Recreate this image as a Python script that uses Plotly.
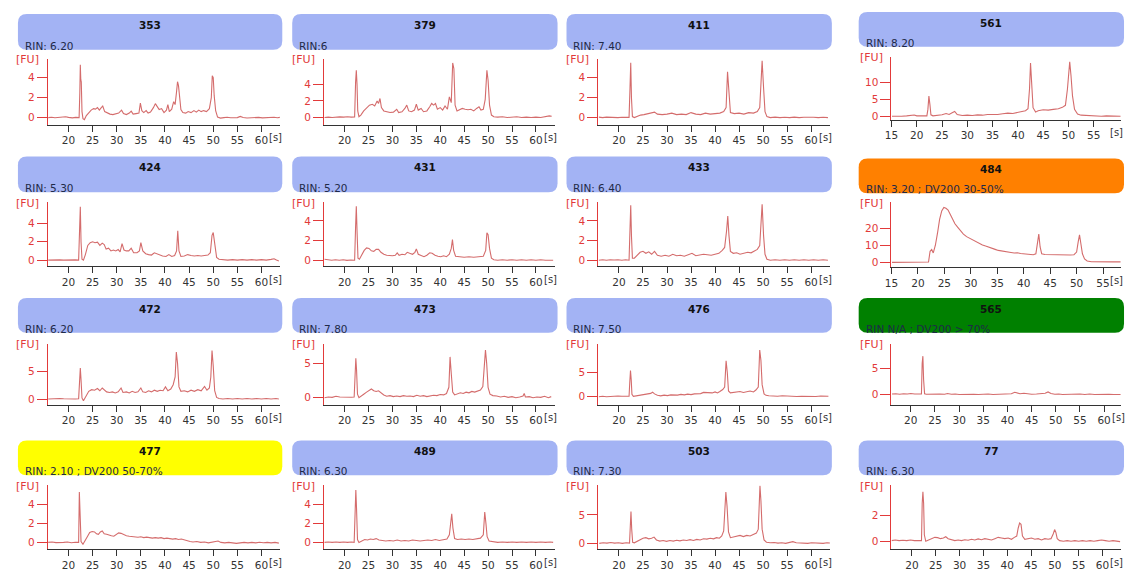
import plotly.graph_objects as go

# ---------------------------------------------------------------------------
# Sample annotations
# ---------------------------------------------------------------------------
samples = ["353", "379", "411", "561",
           "424", "431", "433", "484",
           "472", "473", "476", "565",
           "477", "489", "503", "77"]

rin_text = ["RIN: 6.20", "RIN:6", "RIN: 7.40", "RIN: 8.20",
            "RIN: 5.30", "RIN: 5.20", "RIN: 6.40", "RIN: 3.20 ; DV200 30-50%",
            "RIN: 6.20", "RIN: 7.80", "RIN: 7.50", "RIN N/A ; DV200 > 70%",
            "RIN: 2.10 ; DV200 50-70%", "RIN: 6.30", "RIN: 7.30", "RIN: 6.30"]

# quality flag per sample
quality = ["ok", "ok", "ok", "ok",
           "ok", "ok", "ok", "dv30",
           "ok", "ok", "ok", "dv70",
           "dv50", "ok", "ok", "ok"]

# fluorescence tick labels per panel
fu_ticks = [[0, 2, 4], [0, 2, 4], [0, 2, 4], [0, 5, 10],
            [0, 2, 4], [0, 2, 4], [0, 2, 4], [0, 10, 20],
            [0, 5], [0, 5], [0, 5], [0, 5],
            [0, 2, 4], [0, 2, 4], [0, 5], [0, 2]]

# migration-time tick labels
time_ticks_std = [20, 25, 30, 35, 40, 45, 50, 55, 60]
time_ticks_wide = [15, 20, 25, 30, 35, 40, 45, 50, 55]

# ---------------------------------------------------------------------------
# Electropherogram traces: (time [s], fluorescence [FU])
# ---------------------------------------------------------------------------
trace_353 = [
    (15.8, 0.0), (16.5, 0.03), (17.2, -0.02), (18.0, 0.02), (18.7, 0.0), (19.4, 0.08),
    (20.0, 0.02), (20.8, -0.03), (21.5, 0.02), (22.2, 0.0), (22.35, 2.5), (22.45, 5.3),
    (22.55, 3.8), (22.65, 3.6), (22.8, 0.6), (23.0, -0.1), (23.3, -0.2), (23.7, 0.2),
    (24.2, 0.5), (24.7, 0.75), (25.2, 0.9), (25.6, 0.85), (26.0, 1.0), (26.4, 0.75),
    (26.8, 1.0), (27.1, 1.15), (27.5, 0.6), (28.0, 0.45), (28.6, 0.35), (29.2, 0.3),
    (29.8, 0.4), (30.4, 0.45), (31.0, 0.75), (31.4, 0.4), (32.0, 0.3), (32.6, 0.45),
    (33.0, 0.65), (33.4, 0.35), (34.0, 0.4), (34.6, 0.45), (34.9, 1.45), (35.2, 0.7),
    (35.6, 0.5), (36.1, 0.7), (36.5, 0.45), (37.0, 0.55), (37.6, 1.0), (38.0, 1.4),
    (38.4, 1.1), (38.8, 0.8), (39.3, 0.9), (39.8, 0.5), (40.3, 0.75), (40.6, 1.3),
    (40.9, 0.6), (41.4, 0.85), (41.8, 1.6), (42.1, 1.3), (42.4, 2.6), (42.6, 3.6),
    (42.8, 3.2), (43.0, 2.0), (43.3, 0.8), (43.7, 0.5), (44.3, 0.45), (44.8, 0.6),
    (45.4, 0.5), (46.0, 0.7), (46.5, 0.55), (47.0, 0.75), (47.5, 0.6), (48.0, 0.7),
    (48.6, 0.6), (49.2, 0.9), (49.6, 2.0), (49.8, 4.2), (50.0, 4.0), (50.2, 2.2),
    (50.5, 0.7), (50.9, 0.05), (51.5, -0.05), (52.2, 0.0), (52.9, 0.03), (53.6, -0.02),
    (54.3, 0.02), (55.0, 0.0), (55.6, 0.12), (56.2, 0.0), (57.0, -0.04), (57.8, 0.0),
    (58.6, -0.03), (59.4, 0.02), (60.2, -0.03), (61.0, 0.0), (61.8, -0.04), (62.6, 0.03),
    (63.3, -0.02), (63.8, 0.02),
]

trace_379 = [
    (15.8, 0.0), (16.6, 0.05), (17.4, 0.0), (18.2, 0.05), (19.0, 0.08), (19.8, 0.05),
    (20.6, 0.1), (21.4, 0.05), (22.1, 0.08), (22.3, 4.3), (22.45, 5.7), (22.6, 4.0),
    (22.75, 0.8), (23.0, 0.1), (23.4, 0.3), (24.0, 0.8), (24.6, 1.2), (25.2, 1.5),
    (25.8, 1.6), (26.3, 1.4), (26.8, 2.0), (27.1, 1.7), (27.4, 2.3), (27.7, 1.2),
    (28.2, 0.8), (28.8, 0.7), (29.5, 0.6), (30.2, 0.65), (30.9, 1.0), (31.3, 0.6),
    (32.0, 0.7), (32.6, 1.1), (33.0, 1.5), (33.4, 0.8), (34.0, 0.7), (34.6, 0.9),
    (35.0, 1.6), (35.4, 0.9), (36.0, 1.1), (36.5, 0.7), (37.2, 0.8), (37.8, 1.3),
    (38.2, 1.7), (38.6, 1.5), (39.0, 1.7), (39.4, 1.0), (40.0, 1.2), (40.5, 0.9),
    (41.0, 1.4), (41.5, 1.0), (41.9, 2.5), (42.3, 1.8), (42.6, 6.6), (42.85, 5.9),
    (43.1, 1.5), (43.5, 0.8), (44.0, 0.9), (44.6, 1.1), (45.2, 1.0), (45.8, 0.95),
    (46.4, 1.0), (47.0, 0.8), (47.6, 1.1), (48.1, 1.3), (48.5, 0.9), (49.0, 1.0),
    (49.4, 2.2), (49.75, 5.7), (50.0, 4.5), (50.3, 1.5), (50.7, 0.3), (51.2, 0.1),
    (52.0, 0.05), (53.0, 0.1), (54.0, 0.0), (55.0, 0.05), (56.0, 0.1), (57.0, 0.0),
    (58.0, 0.05), (59.0, 0.0), (60.0, 0.05), (61.0, 0.0), (62.0, 0.1), (62.8, 0.2),
    (63.3, 0.15),
]

trace_411 = [
    (15.8, 0.05), (16.6, 0.0), (17.4, 0.05), (18.2, 0.02), (19.0, 0.06), (19.8, 0.0),
    (20.6, 0.04), (21.4, 0.0), (22.1, 0.02), (22.3, 3.0), (22.45, 5.5), (22.6, 2.0),
    (22.8, 0.1), (23.2, 0.0), (23.8, 0.15), (24.5, 0.25), (25.2, 0.3), (26.0, 0.4),
    (26.8, 0.5), (27.4, 0.55), (28.0, 0.35), (29.0, 0.3), (30.0, 0.35), (31.0, 0.45),
    (32.0, 0.3), (33.0, 0.35), (34.0, 0.3), (35.0, 0.5), (36.0, 0.35), (37.0, 0.3),
    (38.0, 0.45), (39.0, 0.35), (40.0, 0.4), (41.0, 0.45), (41.8, 0.6), (42.3, 1.0),
    (42.6, 4.6), (42.9, 2.0), (43.2, 0.5), (44.0, 0.4), (45.0, 0.45), (46.0, 0.35),
    (47.0, 0.5), (48.0, 0.45), (48.8, 0.6), (49.3, 1.0), (49.6, 4.0), (49.8, 5.7),
    (50.1, 3.0), (50.4, 0.6), (50.8, 0.1), (51.5, 0.0), (52.5, 0.05), (53.5, 0.0),
    (54.5, 0.04), (55.5, 0.0), (56.5, 0.05), (57.5, 0.0), (58.5, 0.04), (59.5, 0.0),
    (60.5, 0.03), (61.5, 0.0), (62.5, 0.04), (63.5, 0.0),
]

trace_561 = [
    (15.1, 0.0), (16.0, 0.1), (17.0, 0.0), (18.0, 0.1), (19.0, 0.15), (19.5, 0.35),
    (20.0, 0.1), (21.0, 0.0), (22.0, 0.1), (22.2, 2.0), (22.4, 5.9), (22.6, 3.5),
    (22.8, 0.4), (23.2, 0.1), (24.0, 0.2), (25.0, 0.4), (25.8, 0.8), (26.4, 0.5),
    (27.0, 1.0), (27.5, 1.4), (28.0, 0.5), (29.0, 0.2), (30.0, 0.3), (31.0, 0.2),
    (32.0, 0.4), (33.0, 0.3), (34.0, 0.5), (35.0, 0.4), (36.0, 0.5), (37.0, 0.7),
    (38.0, 0.9), (39.0, 0.8), (40.0, 1.1), (40.8, 1.3), (41.5, 1.6), (42.0, 2.2),
    (42.3, 8.0), (42.5, 15.7), (42.75, 9.0), (43.0, 2.5), (43.5, 1.2), (44.0, 1.6),
    (45.0, 1.9), (46.0, 1.8), (47.0, 2.0), (48.0, 2.2), (48.8, 2.6), (49.4, 3.2),
    (49.8, 8.0), (50.0, 13.0), (50.25, 16.0), (50.5, 12.0), (50.8, 6.0), (51.2, 2.0),
    (51.8, 0.6), (52.5, 0.3), (53.5, 0.2), (54.5, 0.1), (55.5, 0.2), (56.5, 0.0),
    (57.5, 0.1), (58.5, 0.0), (59.5, 0.1), (60.3, 0.0),
]

trace_424 = [
    (15.8, 0.0), (16.6, 0.03), (17.4, -0.02), (18.2, 0.02), (19.0, 0.0), (19.8, 0.03),
    (20.6, -0.02), (21.4, 0.02), (22.1, 0.0), (22.3, 3.8), (22.45, 5.8), (22.6, 2.0),
    (22.8, 0.1), (23.1, 0.0), (23.5, 0.6), (24.0, 1.6), (24.5, 1.9), (25.0, 2.0),
    (25.5, 1.9), (26.0, 1.95), (26.5, 1.6), (27.0, 1.85), (27.4, 1.7), (27.8, 1.2),
    (28.3, 1.3), (28.8, 1.0), (29.3, 1.1), (29.8, 1.0), (30.3, 1.15), (30.7, 0.9),
    (31.1, 1.8), (31.5, 1.1), (32.0, 1.0), (32.5, 1.0), (33.0, 1.3), (33.5, 0.8),
    (34.2, 0.8), (34.7, 1.0), (35.0, 1.9), (35.4, 1.0), (36.0, 0.7), (36.6, 0.6),
    (37.2, 0.55), (37.8, 0.8), (38.3, 0.7), (38.9, 0.5), (39.5, 0.45), (40.2, 0.4),
    (40.8, 0.6), (41.4, 0.4), (42.0, 0.5), (42.4, 1.0), (42.65, 3.2), (42.9, 1.0),
    (43.3, 0.4), (44.0, 0.45), (44.7, 0.6), (45.4, 0.5), (46.1, 0.45), (46.8, 0.5),
    (47.5, 0.45), (48.2, 0.5), (48.9, 0.55), (49.4, 0.8), (49.75, 2.7), (50.0, 3.0),
    (50.3, 1.6), (50.7, 0.3), (51.2, 0.1), (52.0, 0.05), (53.0, 0.0), (54.0, 0.05),
    (55.0, 0.0), (56.0, 0.05), (57.0, 0.0), (58.0, 0.05), (59.0, 0.0), (60.0, 0.05),
    (61.0, 0.0), (62.0, 0.08), (62.6, 0.15), (63.1, 0.0), (63.6, -0.1),
]

trace_431 = [
    (15.8, 0.1), (16.5, 0.05), (17.3, 0.0), (18.1, 0.05), (18.9, 0.0), (19.7, 0.05),
    (20.5, -0.02), (21.3, 0.02), (22.1, 0.0), (22.3, 3.4), (22.45, 5.5), (22.6, 3.0),
    (22.8, 0.2), (23.1, 0.1), (23.6, 0.5), (24.1, 1.0), (24.6, 1.25), (25.1, 1.2),
    (25.6, 0.95), (26.1, 0.9), (26.6, 1.1), (27.1, 1.1), (27.6, 0.8), (28.2, 0.6),
    (28.8, 0.5), (29.4, 0.45), (30.0, 0.45), (30.6, 0.5), (31.0, 0.75), (31.4, 0.5),
    (32.0, 0.6), (32.6, 0.55), (33.1, 0.8), (33.6, 0.7), (34.2, 0.6), (34.7, 0.8),
    (35.0, 1.15), (35.4, 0.6), (36.0, 0.45), (36.6, 0.35), (37.2, 0.5), (37.8, 0.75),
    (38.3, 0.7), (38.9, 0.5), (39.5, 0.4), (40.1, 0.35), (40.7, 0.45), (41.3, 0.35),
    (41.9, 0.6), (42.3, 1.2), (42.55, 2.1), (42.8, 1.0), (43.2, 0.4), (44.0, 0.35),
    (45.0, 0.3), (46.0, 0.35), (47.0, 0.3), (48.0, 0.35), (49.0, 0.4), (49.5, 1.0),
    (49.75, 2.8), (50.0, 2.6), (50.3, 1.2), (50.7, 0.2), (51.2, 0.05), (52.0, 0.0),
    (53.0, 0.05), (54.0, 0.0), (55.0, 0.05), (56.0, 0.0), (57.0, 0.05), (58.0, 0.0),
    (59.0, 0.04), (60.0, 0.0), (61.0, 0.05), (62.0, 0.0), (63.0, 0.04), (63.6, 0.0),
]

trace_433 = [
    (15.8, 0.0), (16.6, 0.05), (17.4, 0.0), (18.2, 0.05), (19.0, 0.02), (19.8, 0.05),
    (20.6, 0.0), (21.4, 0.05), (22.1, 0.0), (22.3, 3.5), (22.45, 5.6), (22.6, 2.5),
    (22.8, 0.2), (23.2, 0.2), (23.8, 0.5), (24.4, 0.8), (25.0, 0.9), (25.6, 0.7),
    (26.2, 0.85), (26.8, 0.6), (27.4, 0.9), (28.0, 0.5), (28.8, 0.4), (29.6, 0.5),
    (30.4, 0.4), (31.2, 0.6), (32.0, 0.45), (32.8, 0.5), (33.6, 0.4), (34.4, 0.55),
    (35.2, 0.7), (36.0, 0.45), (36.8, 0.5), (37.6, 0.6), (38.4, 0.55), (39.2, 0.5),
    (40.0, 0.6), (40.8, 0.7), (41.5, 1.0), (42.0, 1.3), (42.4, 3.0), (42.65, 4.5),
    (42.9, 2.5), (43.2, 0.9), (43.8, 0.7), (44.5, 0.75), (45.2, 0.6), (46.0, 0.7),
    (46.8, 0.8), (47.5, 0.75), (48.2, 0.9), (48.8, 1.1), (49.3, 1.5), (49.6, 4.0),
    (49.8, 5.7), (50.1, 2.5), (50.4, 0.6), (50.8, 0.1), (51.5, 0.0), (52.5, 0.05),
    (53.5, 0.0), (54.5, 0.05), (55.5, 0.0), (56.5, 0.05), (57.5, 0.0), (58.5, 0.05),
    (59.5, 0.0), (60.5, 0.05), (61.5, 0.0), (62.5, 0.05), (63.5, 0.0),
]

trace_484 = [
    (15.1, 0.0), (16.5, 0.0), (18.0, 0.0), (19.5, 0.0), (21.0, 0.0), (22.0, 0.2),
    (22.3, 6.5), (22.6, 7.5), (22.9, 5.5), (23.3, 10.0), (23.7, 17.0), (24.1, 25.0),
    (24.5, 30.0), (24.9, 32.0), (25.3, 31.5), (25.7, 30.5), (26.1, 28.0), (26.5, 25.5),
    (27.0, 22.5), (27.5, 20.5), (28.0, 18.5), (28.6, 16.5), (29.2, 15.0), (29.8, 14.0),
    (30.4, 13.0), (31.0, 12.0), (31.6, 11.0), (32.2, 10.2), (32.8, 9.5), (33.4, 9.0),
    (34.0, 8.2), (34.6, 7.6), (35.2, 7.0), (35.8, 6.8), (36.4, 6.5), (37.0, 6.0),
    (37.6, 5.8), (38.2, 5.5), (38.8, 5.6), (39.4, 5.2), (40.0, 5.0), (40.6, 4.8),
    (41.2, 4.6), (41.8, 4.5), (42.3, 5.0), (42.6, 10.0), (42.85, 16.5), (43.1, 9.0),
    (43.4, 5.0), (44.0, 4.6), (44.8, 4.5), (45.6, 4.6), (46.4, 4.5), (47.2, 4.4),
    (48.0, 4.5), (48.8, 4.3), (49.5, 4.5), (50.0, 6.0), (50.3, 12.0), (50.55, 16.0),
    (50.8, 11.0), (51.1, 5.0), (51.5, 2.0), (52.0, 0.8), (52.8, 0.4), (53.6, 0.3),
    (54.4, 0.3), (55.2, 0.3), (56.0, 0.3), (56.8, 0.3), (57.6, 0.3), (58.3, 0.3),
]

trace_472 = [
    (15.8, 0.0), (16.6, 0.05), (17.4, 0.0), (18.2, 0.1), (19.0, 0.05), (19.8, 0.0),
    (20.6, 0.05), (21.4, 0.0), (22.1, 0.05), (22.3, 3.0), (22.45, 5.6), (22.6, 3.5),
    (22.8, 0.2), (23.1, -0.3), (23.6, 0.6), (24.2, 1.4), (24.8, 1.7), (25.4, 1.6),
    (26.0, 1.9), (26.5, 1.5), (27.0, 2.0), (27.4, 1.6), (27.9, 1.3), (28.5, 1.2),
    (29.1, 1.3), (29.7, 1.1), (30.3, 1.3), (30.9, 2.0), (31.3, 1.2), (32.0, 1.3),
    (32.6, 1.1), (33.2, 1.4), (33.8, 1.2), (34.4, 1.3), (35.0, 2.0), (35.4, 1.3),
    (36.0, 1.2), (36.6, 1.5), (37.2, 1.3), (37.8, 1.6), (38.4, 1.4), (39.0, 1.6),
    (39.6, 1.5), (40.1, 2.2), (40.6, 1.5), (41.2, 1.8), (41.7, 2.6), (42.1, 4.0),
    (42.35, 8.5), (42.6, 6.5), (42.9, 2.2), (43.3, 1.4), (44.0, 1.5), (44.7, 1.3),
    (45.4, 1.6), (46.1, 1.4), (46.8, 1.7), (47.5, 1.5), (48.2, 2.3), (48.7, 1.6),
    (49.2, 2.0), (49.5, 4.0), (49.75, 8.8), (50.0, 6.0), (50.3, 1.5), (50.7, 0.3),
    (51.2, 0.1), (52.0, 0.0), (53.0, 0.1), (54.0, 0.0), (55.0, 0.1), (56.0, 0.0),
    (57.0, 0.1), (58.0, 0.0), (59.0, 0.1), (60.0, 0.0), (61.0, 0.1), (62.0, 0.0),
    (63.0, 0.1), (63.6, 0.0),
]

trace_473 = [
    (15.8, 0.0), (16.6, 0.1), (17.4, 0.05), (18.2, 0.2), (19.0, 0.1), (19.8, 0.05),
    (20.6, 0.1), (21.4, 0.05), (22.0, 0.1), (22.2, 3.0), (22.35, 5.7), (22.5, 4.0),
    (22.7, 0.5), (23.0, 0.0), (23.5, 0.3), (24.0, 0.5), (24.6, 0.8), (25.2, 1.0),
    (25.6, 1.25), (26.1, 1.0), (26.6, 0.9), (27.1, 1.0), (27.6, 0.7), (28.2, 0.4),
    (28.8, 0.2), (29.5, 0.3), (30.2, 0.15), (30.9, 0.25), (31.6, 0.15), (32.3, 0.3),
    (33.0, 0.2), (33.7, 0.25), (34.4, 0.15), (35.1, 0.35), (35.8, 0.2), (36.5, 0.3),
    (37.2, 0.15), (37.9, 0.3), (38.6, 0.35), (39.3, 0.3), (40.0, 0.45), (40.7, 0.4),
    (41.3, 0.6), (41.8, 1.5), (42.05, 5.9), (42.3, 3.5), (42.6, 0.8), (43.0, 0.4),
    (43.6, 0.5), (44.2, 0.7), (44.8, 0.6), (45.4, 0.8), (46.0, 0.7), (46.6, 0.9),
    (47.2, 0.8), (47.8, 0.9), (48.4, 1.1), (48.9, 1.6), (49.2, 4.5), (49.45, 6.9),
    (49.7, 5.0), (50.0, 1.5), (50.4, 0.5), (51.0, 0.3), (51.8, 0.25), (52.6, 0.1),
    (53.4, 0.2), (54.2, 0.05), (55.0, 0.15), (55.8, 0.0), (56.6, 0.1), (57.3, 0.25),
    (57.55, 0.6), (57.8, 0.1), (58.6, 0.15), (59.4, 0.0), (60.2, 0.1), (61.0, 0.05),
    (61.8, 0.2), (62.6, 0.0), (63.2, 0.15),
]

trace_476 = [
    (15.8, 0.0), (16.6, 0.1), (17.4, 0.0), (18.2, 0.1), (19.0, 0.05), (19.8, 0.15),
    (20.6, 0.1), (21.4, 0.05), (22.1, 0.1), (22.25, 3.0), (22.4, 5.4), (22.55, 3.5),
    (22.7, 0.5), (23.0, 0.1), (23.6, 0.2), (24.2, 0.4), (24.8, 0.5), (25.4, 0.45),
    (26.0, 0.6), (26.6, 0.7), (27.0, 0.95), (27.4, 0.6), (28.0, 0.3), (28.7, 0.2),
    (29.4, 0.35), (30.1, 0.25), (30.8, 0.4), (31.5, 0.3), (32.2, 0.35), (32.9, 0.5),
    (33.6, 0.4), (34.3, 0.55), (35.0, 0.45), (35.7, 0.6), (36.4, 0.7), (37.0, 0.65),
    (37.6, 0.9), (38.2, 0.85), (38.8, 0.7), (39.4, 0.8), (40.0, 1.0), (40.5, 0.8),
    (41.0, 1.1), (41.6, 1.5), (42.0, 2.0), (42.3, 7.4), (42.55, 5.0), (42.8, 1.2),
    (43.2, 0.8), (43.8, 0.9), (44.5, 1.0), (45.2, 1.1), (45.9, 0.9), (46.6, 1.1),
    (47.3, 1.2), (48.0, 1.0), (48.5, 1.4), (49.0, 2.0), (49.3, 9.6), (49.55, 7.5),
    (49.8, 2.5), (50.2, 0.6), (50.6, 0.3), (51.2, 0.2), (52.0, 0.15), (53.0, 0.1),
    (54.0, 0.2), (55.0, 0.1), (56.0, 0.15), (57.0, 0.05), (58.0, 0.1), (59.0, 0.05),
    (60.0, 0.1), (61.0, 0.05), (62.0, 0.15), (63.0, 0.05), (63.6, 0.1),
]

trace_565 = [
    (16.1, 0.05), (16.9, 0.1), (17.7, 0.0), (18.5, 0.1), (19.3, 0.05), (20.0, 0.15),
    (20.8, 0.05), (21.6, 0.1), (22.2, 0.05), (22.35, 6.0), (22.5, 7.4), (22.65, 2.8),
    (22.85, 0.1), (23.2, 0.0), (24.0, 0.05), (25.0, 0.0), (26.0, 0.05), (27.0, 0.0),
    (27.6, 0.15), (28.4, 0.0), (29.2, 0.05), (30.0, -0.05), (31.0, 0.0), (32.0, -0.05),
    (33.0, 0.0), (34.0, -0.05), (35.0, 0.0), (36.0, 0.05), (37.0, -0.05), (38.0, 0.0),
    (39.0, -0.05), (40.0, 0.05), (40.8, 0.1), (41.5, 0.4), (42.0, 0.2), (42.6, 0.1),
    (43.4, 0.2), (44.2, 0.05), (45.0, 0.0), (46.0, 0.05), (47.0, 0.1), (47.8, 0.2),
    (48.4, 0.45), (49.0, 0.15), (49.8, 0.0), (50.6, 0.05), (51.4, -0.05), (52.2, 0.0),
    (53.0, -0.05), (54.0, 0.0), (55.0, 0.05), (56.0, -0.05), (57.0, 0.05), (58.0, -0.05),
    (59.0, 0.0), (60.0, -0.05), (61.0, 0.0), (62.0, -0.05), (63.0, 0.0), (63.4, -0.03),
]

trace_477 = [
    (15.8, 0.0), (16.6, 0.05), (17.4, -0.02), (18.2, 0.03), (19.0, 0.0), (19.8, 0.04),
    (20.6, -0.03), (21.4, 0.02), (22.1, 0.0), (22.25, 5.3), (22.4, 2.5), (22.6, 0.1),
    (23.0, -0.2), (23.4, 0.1), (23.9, 0.6), (24.4, 1.05), (24.9, 1.15), (25.4, 1.1),
    (25.8, 0.9), (26.2, 0.85), (26.6, 1.1), (27.0, 1.2), (27.4, 0.9), (27.9, 0.85),
    (28.4, 0.75), (28.9, 0.7), (29.4, 0.65), (29.9, 0.8), (30.4, 1.0), (30.9, 0.95),
    (31.4, 0.8), (32.0, 0.7), (32.6, 0.65), (33.2, 0.6), (33.8, 0.6), (34.4, 0.55),
    (35.0, 0.6), (35.6, 0.5), (36.2, 0.55), (36.8, 0.5), (37.4, 0.45), (38.0, 0.5),
    (38.6, 0.45), (39.2, 0.5), (39.8, 0.4), (40.4, 0.45), (41.0, 0.4), (41.6, 0.35),
    (42.2, 0.4), (42.8, 0.3), (43.4, 0.35), (44.0, 0.25), (44.6, 0.15), (45.2, 0.1),
    (45.8, 0.05), (46.6, 0.1), (47.4, 0.0), (48.2, 0.05), (49.0, -0.05), (49.8, 0.0),
    (50.5, 0.12), (51.0, 0.15), (51.6, 0.0), (52.4, -0.05), (53.2, 0.0), (54.0, -0.05),
    (54.8, -0.1), (55.6, -0.05), (56.4, 0.0), (57.2, -0.05), (58.0, 0.0), (58.8, -0.05),
    (59.6, 0.02), (60.4, -0.04), (61.2, 0.0), (62.0, -0.05), (62.8, 0.0), (63.6, -0.08),
]

trace_489 = [
    (15.8, 0.0), (16.6, 0.05), (17.4, 0.0), (18.2, 0.05), (19.0, 0.0), (19.8, 0.05),
    (20.6, 0.0), (21.4, 0.05), (22.0, 0.0), (22.2, 2.5), (22.35, 5.5), (22.5, 3.5),
    (22.7, 0.3), (23.0, 0.0), (23.6, 0.15), (24.2, 0.3), (24.8, 0.25), (25.4, 0.35),
    (26.0, 0.3), (26.6, 0.4), (27.2, 0.25), (27.8, 0.2), (28.6, 0.15), (29.4, 0.2),
    (30.2, 0.15), (31.0, 0.25), (31.8, 0.15), (32.6, 0.2), (33.4, 0.15), (34.2, 0.25),
    (35.0, 0.2), (35.8, 0.15), (36.6, 0.2), (37.4, 0.25), (38.2, 0.2), (39.0, 0.3),
    (39.8, 0.2), (40.6, 0.25), (41.4, 0.35), (41.9, 0.8), (42.2, 2.5), (42.4, 3.0),
    (42.65, 1.5), (43.0, 0.4), (43.6, 0.3), (44.4, 0.35), (45.2, 0.3), (46.0, 0.35),
    (46.8, 0.3), (47.6, 0.4), (48.4, 0.45), (49.0, 0.8), (49.3, 3.2), (49.55, 2.0),
    (49.8, 0.6), (50.2, 0.15), (51.0, 0.05), (52.0, 0.0), (53.0, 0.05), (54.0, 0.0),
    (55.0, 0.05), (56.0, 0.0), (57.0, 0.05), (58.0, 0.0), (59.0, 0.05), (60.0, 0.0),
    (61.0, 0.05), (62.0, 0.0), (63.0, 0.05), (63.6, 0.0),
]

trace_503 = [
    (15.9, 0.0), (16.7, 0.1), (17.5, 0.05), (18.3, 0.15), (19.1, 0.05), (19.9, 0.1),
    (20.7, 0.0), (21.5, 0.1), (22.2, 0.05), (22.35, 3.3), (22.5, 5.6), (22.65, 2.5),
    (22.85, 0.2), (23.2, 0.1), (23.8, 0.4), (24.4, 0.7), (25.0, 0.9), (25.6, 1.0),
    (26.2, 0.8), (26.8, 0.9), (27.3, 1.1), (27.8, 0.6), (28.5, 0.4), (29.2, 0.5),
    (29.9, 0.35), (30.6, 0.5), (31.3, 0.4), (32.0, 0.55), (32.7, 0.45), (33.4, 0.6),
    (34.1, 0.5), (34.8, 0.65), (35.5, 0.5), (36.2, 0.7), (36.9, 0.6), (37.6, 0.8),
    (38.3, 0.75), (39.0, 0.9), (39.7, 0.8), (40.3, 1.0), (40.9, 0.9), (41.4, 1.3),
    (41.8, 2.2), (42.05, 6.0), (42.25, 9.0), (42.5, 6.5), (42.8, 2.0), (43.2, 1.0),
    (43.8, 1.1), (44.5, 1.3), (45.2, 1.4), (45.9, 1.2), (46.6, 1.4), (47.3, 1.3),
    (48.0, 1.5), (48.6, 1.8), (49.0, 2.5), (49.2, 6.0), (49.35, 10.1), (49.55, 7.5),
    (49.8, 2.5), (50.2, 0.6), (50.7, 0.2), (51.5, 0.1), (52.3, 0.15), (53.1, 0.05),
    (53.9, 0.1), (54.7, 0.0), (55.5, 0.1), (56.2, 0.3), (56.9, 0.1), (57.7, 0.05),
    (58.5, 0.1), (59.3, 0.0), (60.1, 0.1), (60.9, 0.05), (61.7, 0.1), (62.5, 0.0),
    (63.3, 0.1), (64.0, 0.05),
]

trace_77 = [
    (15.7, 0.05), (16.5, 0.1), (17.3, 0.05), (18.1, 0.08), (18.9, 0.05), (19.7, 0.1),
    (20.5, 0.05), (21.3, 0.08), (22.0, 0.05), (22.15, 2.9), (22.3, 3.8), (22.45, 2.9),
    (22.6, 0.5), (22.9, 0.0), (23.5, 0.1), (24.2, 0.25), (24.8, 0.3), (25.4, 0.28),
    (26.0, 0.2), (26.6, 0.25), (27.1, 0.35), (27.6, 0.2), (28.3, 0.1), (29.0, 0.05),
    (29.7, 0.1), (30.4, 0.05), (31.1, 0.12), (31.8, 0.08), (32.5, 0.15), (33.2, 0.1),
    (33.9, 0.18), (34.6, 0.12), (35.3, 0.2), (36.0, 0.15), (36.7, 0.1), (37.4, 0.2),
    (38.1, 0.3), (38.8, 0.25), (39.5, 0.2), (40.2, 0.25), (40.9, 0.15), (41.5, 0.3),
    (42.0, 0.4), (42.3, 1.0), (42.6, 1.4), (42.9, 1.3), (43.2, 0.4), (43.7, 0.15),
    (44.4, 0.2), (45.1, 0.25), (45.8, 0.15), (46.5, 0.2), (47.2, 0.1), (47.9, 0.2),
    (48.6, 0.15), (49.2, 0.2), (49.7, 0.6), (49.95, 0.9), (50.2, 0.7), (50.5, 0.2),
    (51.0, 0.05), (51.8, 0.0), (52.6, 0.05), (53.4, 0.0), (54.2, 0.05), (55.0, 0.0),
    (55.8, 0.05), (56.6, 0.0), (57.4, 0.05), (58.2, 0.0), (59.0, 0.05), (59.8, 0.1),
    (60.6, 0.05), (61.4, 0.0), (62.2, 0.05), (63.0, 0.0), (63.7, -0.03),
]

profiles = {
    "353": trace_353, "379": trace_379, "411": trace_411, "561": trace_561,
    "424": trace_424, "431": trace_431, "433": trace_433, "484": trace_484,
    "472": trace_472, "473": trace_473, "476": trace_476, "565": trace_565,
    "477": trace_477, "489": trace_489, "503": trace_503, "77": trace_77,
}

# ---------------------------------------------------------------------------
# Styling and page geometry (pixels)
# ---------------------------------------------------------------------------
W, H = 1128, 571
FONT = "DejaVu Sans"
TRACE = "#d46c6c"
RED = "#e23a3a"
DARK = "#333333"
FLAG_FILL = {"ok": "#a3b3f4", "dv30": "#ff8000", "dv70": "#008000", "dv50": "#ffff00"}

col_box = [(11, 277), (287, 554), (563, 830), (857, 1124)]
row_box = [(14, 50), (157, 193), (299, 334), (442, 477)]
col_plot = [(41, 275), (319, 551), (595, 828), (890, 1121)]
row_plot = [(59, 125), (203, 267), (345, 406), (487, 551)]

# per-panel vertical scale (FU) and time window (s)
fu_range = [[-0.7, 5.9], [-0.85, 7.1], [-0.7, 5.9], [-1.0, 17.5],
            [-0.65, 6.3], [-0.6, 5.9], [-0.6, 5.9], [-2.7, 35.0],
            [-1.0, 10.0], [-1.0, 7.8], [-1.6, 10.9], [-2.0, 9.8],
            [-0.7, 6.0], [-0.7, 6.0], [-1.0, 10.2], [-0.6, 4.3]]
time_range = {"561": [15.0, 60.4], "484": [15.0, 58.4], "565": [16.0, 63.5]}
DEFAULT_TIME = [15.7, 63.9]


def fx(x):
    return x / W


def fy(y):
    return 1 - y / H


def rounded_box(x0, y0, x1, y1, r=9):
    pts = [
        ("M", [(x0 + r, y0)]), ("L", [(x1 - r, y0)]), ("Q", [(x1, y0), (x1, y0 + r)]),
        ("L", [(x1, y1 - r)]), ("Q", [(x1, y1), (x1 - r, y1)]), ("L", [(x0 + r, y1)]),
        ("Q", [(x0, y1), (x0, y1 - r)]), ("L", [(x0, y0 + r)]), ("Q", [(x0, y0), (x0 + r, y0)]),
    ]
    parts = []
    for cmd, coords in pts:
        parts.append(cmd + " ".join(f"{fx(a):.5f},{fy(b):.5f}" for a, b in coords))
    return " ".join(parts) + " Z"


fig = go.Figure()
layout = {}
shapes = []
annotations = []

for i, name in enumerate(samples):
    r, c = divmod(i, 4)
    bx0, bx1 = col_box[c]
    by0, by1 = row_box[r]
    px0, px1 = col_plot[c]
    py0, py1 = row_plot[r]
    if name == "561":
        by0, by1, py0, py1 = 12, 47, 57, 120
    if name == "484":
        by0, by1, py1 = 159, 194, 268

    idx = "" if i == 0 else str(i + 1)
    xs = [p[0] for p in profiles[name]]
    ys = [p[1] for p in profiles[name]]
    fig.add_trace(go.Scatter(
        x=xs, y=ys, mode="lines", line=dict(color=TRACE, width=1.1),
        xaxis=f"x{idx}", yaxis=f"y{idx}", hoverinfo="skip", showlegend=False,
    ))

    xr = time_range.get(name, DEFAULT_TIME)
    xt = time_ticks_wide if name in ("561", "484") else time_ticks_std
    layout[f"xaxis{idx}"] = dict(
        domain=[fx(px0), fx(px1)], range=xr, anchor=f"y{idx}", tickvals=xt,
        ticks="outside", ticklen=6, tickwidth=1, tickcolor=DARK,
        showline=True, linecolor=DARK, linewidth=1, showgrid=False, zeroline=False,
        tickfont=dict(family=FONT, size=10.5, color=DARK), fixedrange=True,
    )
    layout[f"yaxis{idx}"] = dict(
        domain=[fy(py1), fy(py0)], range=fu_range[i], anchor=f"x{idx}",
        tickvals=fu_ticks[i], ticks="outside", ticklen=10, tickwidth=1, tickcolor=RED,
        showline=True, linecolor=RED, linewidth=1, showgrid=False, zeroline=False,
        tickfont=dict(family=FONT, size=10.5, color=RED), fixedrange=True,
    )

    # header box
    shapes.append(dict(
        type="path", xref="paper", yref="paper", path=rounded_box(bx0, by0, bx1, by1),
        fillcolor=FLAG_FILL[quality[i]], line=dict(width=0), layer="below",
    ))
    annotations.append(dict(
        xref="paper", yref="paper", x=fx((bx0 + bx1) / 2), y=fy(by0 + 11),
        text=f"<b>{name}</b>", showarrow=False, xanchor="center", yanchor="middle",
        font=dict(family=FONT, size=10.5, color="#111111"),
    ))
    annotations.append(dict(
        xref="paper", yref="paper", x=fx(bx0 + 5), y=fy(by1 - 4),
        text=rin_text[i], showarrow=False, xanchor="left", yanchor="middle",
        font=dict(family=FONT, size=10.5, color="#1f2a48"),
    ))
    # axis captions
    annotations.append(dict(
        xref="paper", yref="paper", x=fx(px0 - 7), y=fy(py0 + 1),
        text="[FU]", showarrow=False, xanchor="right", yanchor="middle",
        font=dict(family=FONT, size=11, color=RED),
    ))
    s_right = W - 1 if name == "565" else px1 + 4
    annotations.append(dict(
        xref="paper", yref="paper", x=fx(s_right), y=fy(py1 + 13),
        text="[s]", showarrow=False, xanchor="right", yanchor="middle",
        font=dict(family=FONT, size=10, color=DARK),
    ))

fig.update_layout(
    width=W, height=H, margin=dict(l=0, r=0, t=0, b=0),
    paper_bgcolor="white", plot_bgcolor="white",
    shapes=shapes, annotations=annotations, showlegend=False,
    **layout,
)

fig.write_html("out.html", config={"displayModeBar": False})
